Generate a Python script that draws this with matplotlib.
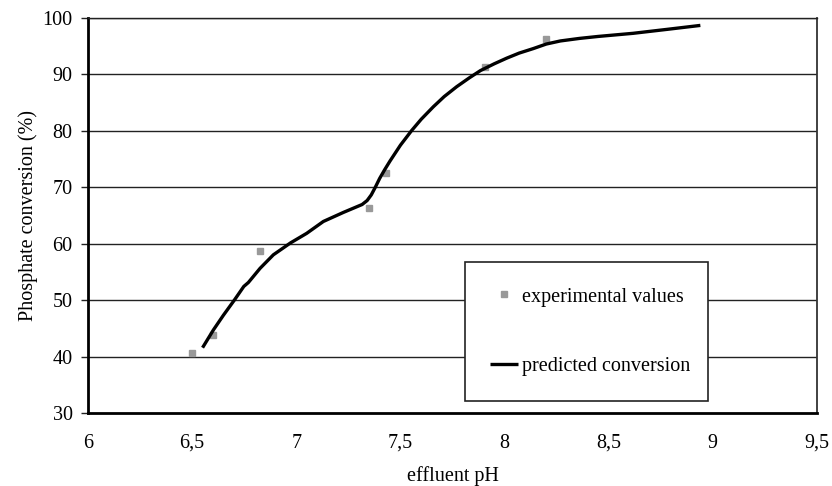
import matplotlib
matplotlib.use("Agg")
import matplotlib.pyplot as plt

exp_ph = [6.50, 6.60, 6.826, 7.35, 7.43, 7.908, 8.197]
exp_conv = [40.7, 43.8, 58.7, 66.2, 72.4, 91.2, 96.2]

pred_ph = [6.55, 6.602, 6.650, 6.703, 6.748, 6.77, 6.826, 6.890, 6.972, 7.05, 7.13,
           7.226, 7.316, 7.34, 7.36, 7.38, 7.40, 7.425, 7.45, 7.50, 7.554, 7.60, 7.658,
           7.71, 7.77, 7.83, 7.884, 7.95, 8.01, 8.07, 8.138, 8.20, 8.268, 8.36,
           8.45, 8.617, 8.78, 8.94]
pred_conv = [41.56, 44.7, 47.3, 50.0, 52.4, 53.1, 55.6, 58.0, 60.1, 61.8, 63.9,
             65.5, 66.9, 67.6, 68.6, 70.0, 71.5, 73.1, 74.6, 77.4, 80.0, 82.0, 84.2,
             86.0, 87.75, 89.3, 90.6, 91.8, 92.8, 93.7, 94.5, 95.3, 95.85, 96.3,
             96.65, 97.2, 97.9, 98.6]

x_ticks = [6, 6.5, 7, 7.5, 8, 8.5, 9, 9.5]
x_labels = ["6", "6,5", "7", "7,5", "8", "8,5", "9", "9,5"]
y_ticks = [30, 40, 50, 60, 70, 80, 90, 100]

plt.rcParams['font.family'] = ['Liberation Serif', 'DejaVu Serif']
FS = 14.5

fig = plt.figure(figsize=(8.32, 4.86), dpi=100)
ax = fig.add_axes([88/832, 1-413/486, (817-88)/832, (413-17.5)/486])

for yv in y_ticks[1:]:
    ax.axhline(yv, color='#222222', lw=1.0, zorder=1)

ax.plot(exp_ph, exp_conv, ls='none', marker='s', ms=4.7, color='#999999',
        mec='#999999', label='experimental values', zorder=3)
ax.plot(pred_ph, pred_conv, color='black', lw=2.4, label='predicted conversion',
        zorder=4, solid_capstyle='butt', solid_joinstyle='round')

ax.set_xlim(6, 9.5)
ax.set_ylim(30, 100)
ax.set_xticks(x_ticks)
ax.set_xticklabels(x_labels)
ax.set_yticks(y_ticks)
ax.tick_params(axis='x', length=0, pad=15, labelsize=FS)
ax.tick_params(axis='y', length=5, width=1.0, pad=6, labelsize=FS, color='#222222')

for s in ['left', 'bottom']:
    ax.spines[s].set_linewidth(2.0)
    ax.spines[s].set_color('black')
ax.spines['right'].set_linewidth(1.3)
ax.spines['right'].set_color('#333333')
ax.spines['top'].set_linewidth(1.0)
ax.spines['top'].set_color('#222222')

ax.set_xlabel('effluent pH', fontsize=FS, labelpad=9.5)
ax.set_ylabel('Phosphate conversion (%)', fontsize=FS, labelpad=3)

x0 = (465-88)/729
w = (708-465)/729
leg = ax.legend(loc='lower left', bbox_to_anchor=(x0, 0.030, w, 0.357), mode='expand',
                fontsize=FS, frameon=True, fancybox=False, framealpha=1,
                edgecolor='#222222', labelspacing=2.5, borderpad=1.25,
                handlelength=1.4, handletextpad=0.2, borderaxespad=0)
leg.get_frame().set_linewidth(1.2)
leg.set_zorder(5)

fig.savefig('out.png', dpi=100)
